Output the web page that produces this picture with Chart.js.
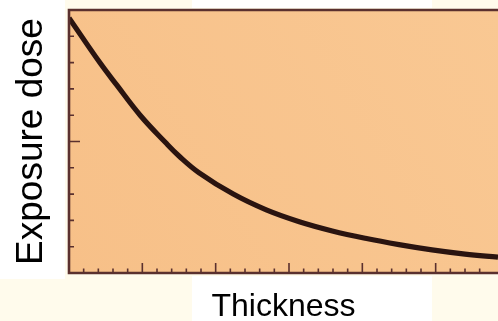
<!DOCTYPE html>
<html>
<head>
<meta charset="utf-8">
<script src="https://cdn.jsdelivr.net/npm/chart.js@4.4.1/dist/chart.umd.min.js"></script>
<style>
    body { margin: 0; background: #ffffff; overflow: hidden; }
    #doseChart { display: block; }
</style>
</head>
<body>
<canvas id="doseChart" width="498" height="321"></canvas>
<script>
// values: x in major-tick units, y in y-tick units (0..10)
const thickness = [0, 0.42, 0.65, 0.97, 1.32, 1.50, 1.77, 2.24, 2.69, 3.14, 3.59, 4.04, 4.50, 4.95, 5.40, 5.85];
const exposureDose = [9.7, 8.0, 7.15, 6.0, 4.95, 4.45, 3.82, 3.0, 2.40, 1.95, 1.60, 1.32, 1.08, 0.88, 0.72, 0.60];

const xTitle = 'Thickness';
const yTitle = 'Exposure dose';

const frameColor = '#5a302e';
const curveColor = '#2a1410';

// cream photo margin with white label boxes pasted over it
const paperPlugin = {
    id: 'paper',
    beforeDraw: (chart) => {
        const { ctx, chartArea: a } = chart;
        ctx.save();
        ctx.fillStyle = '#fffbec';
        ctx.fillRect(0, 0, chart.width, chart.height);
        ctx.fillStyle = '#ffffff';
        ctx.fillRect(0, 0, 65, 279);
        ctx.fillRect(192, 0, 240, 8);
        ctx.fillRect(192, 276, 240, chart.height - 276);

        const grad = ctx.createLinearGradient(a.left, a.bottom, a.right, a.top);
        grad.addColorStop(0, '#f7c088');
        grad.addColorStop(1, '#f9c893');
        ctx.fillStyle = grad;
        ctx.fillRect(a.left, a.top, a.right - a.left, a.bottom - a.top);
        ctx.restore();
    }
};

// frame and inward tick marks, placed by the chart's own scales
const framePlugin = {
    id: 'frame',
    afterDatasetsDraw: (chart) => {
        const { ctx, chartArea: a, scales: { x, y } } = chart;
        ctx.save();
        ctx.strokeStyle = frameColor;
        ctx.lineWidth = 1.6;
        ctx.beginPath();
        x.ticks.forEach(t => {
            const steps = t.value / 0.2;
            if (Math.abs(steps - Math.round(steps)) > 1e-6) return;
            const major = Math.round(steps) % 5 === 0;
            const px = x.getPixelForValue(t.value);
            ctx.moveTo(px, a.bottom);
            ctx.lineTo(px, a.bottom - (major ? 10 : 4.5));
        });
        y.ticks.forEach(t => {
            const major = t.value === 5;
            const py = y.getPixelForValue(t.value);
            ctx.moveTo(a.left, py);
            ctx.lineTo(a.left + (major ? 11 : 5), py);
        });
        ctx.stroke();

        ctx.lineWidth = 2.6;
        ctx.beginPath();
        ctx.moveTo(a.right + 2, a.top);
        ctx.lineTo(a.left, a.top);
        ctx.lineTo(a.left, a.bottom);
        ctx.lineTo(a.right + 2, a.bottom);
        ctx.stroke();
        ctx.restore();
    }
};

window.onload = () => {
    const ctx = document.getElementById('doseChart').getContext('2d');
    new Chart(ctx, {
        type: 'line',
        data: {
            datasets: [{
                data: thickness.map((t, i) => ({ x: t, y: exposureDose[i] })),
                borderColor: curveColor,
                borderWidth: 5.2,
                pointRadius: 0,
                fill: false,
                tension: 0.4
            }]
        },
        options: {
            responsive: false,
            animation: false,
            layout: { padding: { top: 10, right: 0, bottom: 0, left: 0 } },
            plugins: {
                legend: { display: false },
                tooltip: { enabled: false }
            },
            scales: {
                x: {
                    type: 'linear',
                    min: 0,
                    max: 5.85,
                    ticks: { display: false, stepSize: 0.2 },
                    grid: { display: false, drawTicks: false },
                    border: { display: false },
                    title: {
                        display: true,
                        text: xTitle,
                        color: '#000000',
                        font: { family: '"Liberation Sans", Arial, sans-serif', size: 32, lineHeight: 0.6 },
                        padding: { top: 24.4, bottom: 4.4 }
                    }
                },
                y: {
                    type: 'linear',
                    min: 0,
                    max: 10,
                    ticks: { display: false, stepSize: 1 },
                    grid: { display: false, drawTicks: false },
                    border: { display: false },
                    title: {
                        display: true,
                        text: yTitle,
                        color: '#000000',
                        font: { family: '"Liberation Sans", Arial, sans-serif', size: 37, lineHeight: 1 },
                        padding: { top: 13, bottom: 19 }
                    }
                }
            }
        },
        plugins: [paperPlugin, framePlugin]
    });
};
</script>
</body>
</html>
